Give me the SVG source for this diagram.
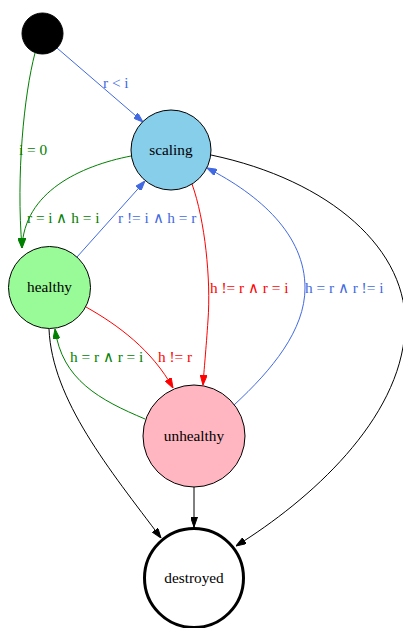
<svg xmlns="http://www.w3.org/2000/svg" width="403" height="628" viewBox="0 0 403 628">
<style>
text{font-family:"Liberation Serif","Times New Roman",serif;font-size:15.3px}
.n{text-anchor:middle;fill:#000}
.node{stroke:#000;stroke-width:1}
.e{fill:none;stroke-width:1}
.bl{stroke:#4169e1}.blt{fill:#4169e1}
.gr{stroke:#008000}.grt{fill:#008000}
.rd{stroke:#ff0000}.rdt{fill:#ff0000}
.bk{stroke:#000}
</style>
<defs>
<marker id="ab" markerUnits="userSpaceOnUse" markerWidth="10" markerHeight="7" refX="10" refY="3.5" orient="auto"><path d="M0,0L10,3.5L0,7z" fill="#4169e1" stroke="#4169e1"/></marker>
<marker id="ag" markerUnits="userSpaceOnUse" markerWidth="10" markerHeight="7" refX="10" refY="3.5" orient="auto"><path d="M0,0L10,3.5L0,7z" fill="#008000" stroke="#008000"/></marker>
<marker id="ar" markerUnits="userSpaceOnUse" markerWidth="10" markerHeight="7" refX="10" refY="3.5" orient="auto"><path d="M0,0L10,3.5L0,7z" fill="#ff0000" stroke="#ff0000"/></marker>
<marker id="ak" markerUnits="userSpaceOnUse" markerWidth="10" markerHeight="7" refX="10" refY="3.5" orient="auto"><path d="M0,0L10,3.5L0,7z" fill="#000" stroke="#000"/></marker>
</defs>
<rect width="403" height="628" fill="#fff"/>
<g id="edges">
<path class="e bl" d="M57,48L143,122" marker-end="url(#ab)"/>
<text class="blt" x="103" y="88">r &lt; i</text>
<path class="e gr" d="M35,53C24,95 16,175 22,248" marker-end="url(#ag)"/>
<text class="grt" x="19" y="155">i = 0</text>
<path class="e gr" d="M131,156C80,166 24,192 22,248" marker-end="url(#ag)"/>
<text class="grt" x="27" y="223">r = i ∧ h = i</text>
<path class="e bl" d="M77,257L145,181" marker-end="url(#ab)"/>
<text class="blt" x="118" y="223">r != i ∧ h = r</text>
<path class="e rd" d="M192,184C205,220 211,280 208,320C206,350 204,370 203,385" marker-end="url(#ar)"/>
<text class="rdt" x="210" y="293">h != r ∧ r = i</text>
<path class="e bl" d="M234,405C272,370 305,330 305,288C305,235 260,195 207,168" marker-end="url(#ab)"/>
<text class="blt" x="305" y="293">h = r ∧ r != i</text>
<path class="e rd" d="M86,307C118,325 152,350 173,388" marker-end="url(#ar)"/>
<text class="rdt" x="158" y="362">h != r</text>
<path class="e gr" d="M145,419C100,400 62,380 55,329" marker-end="url(#ag)"/>
<text class="grt" x="70" y="362">h = r ∧ r = i</text>
<path class="e bk" d="M49,329C52,400 110,470 161,538" marker-end="url(#ak)"/>
<path class="e bk" d="M194,487L194,527" marker-end="url(#ak)"/>
<path class="e bk" d="M211,155C330,180 410,250 405,330C400,420 310,500 236,546" marker-end="url(#ak)"/>
</g>
<g id="start"><circle cx="42.5" cy="33.5" r="20.5" fill="#000" stroke="#000"/></g>
<g id="scaling"><circle class="node" cx="171" cy="150" r="40" fill="#87ceeb"/><text class="n" x="171" y="155">scaling</text></g>
<g id="healthy"><circle class="node" cx="49.5" cy="287.5" r="41" fill="#98fb98"/><text class="n" x="49.5" y="292">healthy</text></g>
<g id="unhealthy"><circle class="node" cx="194" cy="436" r="51" fill="#ffb6c1"/><text class="n" x="194" y="441">unhealthy</text></g>
<g id="destroyed"><circle cx="194" cy="578" r="49.5" fill="#fff" stroke="#000" stroke-width="3"/><text class="n" x="194" y="583">destroyed</text></g>
</svg>
